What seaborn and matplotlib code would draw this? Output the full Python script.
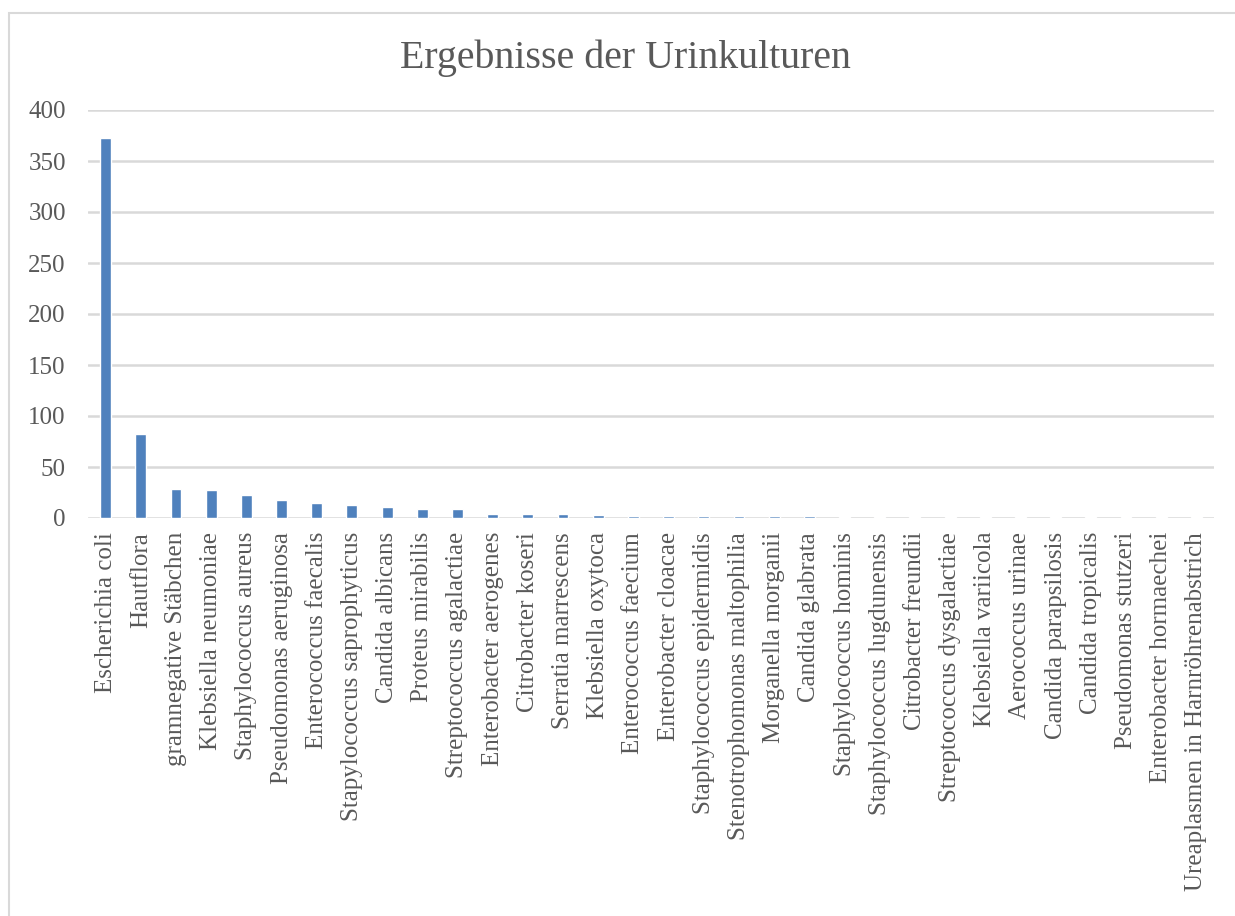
import matplotlib
matplotlib.use("Agg")
import matplotlib.pyplot as plt
import seaborn as sns
import pandas as pd

# Befunde der Urinkulturen (Anzahl)
organisms = [
    "Escherichia coli", "Hautflora", "gramnegative Stäbchen", "Klebsiella neumoniae",
    "Staphylococcus aureus", "Pseudomonas aeruginosa", "Enterococcus faecalis",
    "Stapylococcus saprophyticus", "Candida albicans", "Proteus mirabilis",
    "Streptococcus agalactiae", "Enterobacter aerogenes", "Citrobacter koseri",
    "Serratia marrescens", "Klebsiella oxytoca", "Enterococcus faecium",
    "Enterobacter cloacae", "Staphylococcus epidermidis", "Stenotrophomonas maltophilia",
    "Morganella morganii", "Candida glabrata", "Staphylococcus hominis",
    "Staphylococcus lugdunensis", "Citrobacter freundii", "Streptococcus dysgalactiae",
    "Klebsiella variicola", "Aerococcus urinae", "Candida parapsilosis",
    "Candida tropicalis", "Pseudomonas stutzeri", "Enterobacter hormaechei",
    "Ureaplasmen in Harnröhrenabstrich",
]
counts = [
    373, 82, 28, 27, 23, 18, 15, 13, 11, 9, 9, 4, 4, 4, 3, 2, 2, 2, 2, 2, 2, 1,
    1, 1, 1, 1, 1, 1, 1, 1, 1, 1,
]
y_ticks = [0, 50, 100, 150, 200, 250, 300, 350, 400]
title = "Ergebnisse der Urinkulturen"

df = pd.DataFrame({"organism": organisms, "count": counts})

sns.set_theme(style="white")
plt.rcParams["font.family"] = ["Liberation Serif", "DejaVu Serif"]

text_color = "#595959"
grid_color = "#d9d9d9"
bar_color = "#4f81bd"

W, H = 1235, 916
fig = plt.figure(figsize=(W / 100, H / 100), dpi=100)
fig.patch.set_facecolor("white")

# chart frame
frame = plt.Rectangle((9 / W, -0.1), 1.2, (H - 13) / H + 0.1, transform=fig.transFigure,
                      fill=False, edgecolor=grid_color, linewidth=1.5)
fig.add_artist(frame)

left, right = 88 / W, 1214 / W
bottom, top = (H - 518) / H, (H - 110) / H
ax = fig.add_axes([left, bottom, right - left, top - bottom])

sns.barplot(data=df, x="organism", y="count", color=bar_color, width=0.31,
            saturation=1, ax=ax, zorder=3)

ax.set_xlim(-0.5, len(organisms) - 0.5)
ax.set_ylim(0, 400)
ax.set_yticks(y_ticks)
ax.set_yticklabels([str(v) for v in y_ticks])
ax.yaxis.grid(True, color=grid_color, linewidth=1.8, zorder=0)
ax.set_axisbelow(True)
for s in ["top", "right", "left", "bottom"]:
    ax.spines[s].set_visible(False)
ax.set_xlabel("")
ax.set_ylabel("")
ax.tick_params(axis="x", rotation=90, labelsize=18, colors=text_color, length=0, pad=10)
ax.tick_params(axis="y", labelsize=18, colors=text_color, length=0, pad=16)
for lbl in ax.get_xticklabels():
    lbl.set_verticalalignment("top")

fig.text(625 / W, 1 - 58 / H, title, ha="center", va="center", fontsize=28.7,
         color=text_color)

fig.savefig("out.png", dpi=100, facecolor="white")
